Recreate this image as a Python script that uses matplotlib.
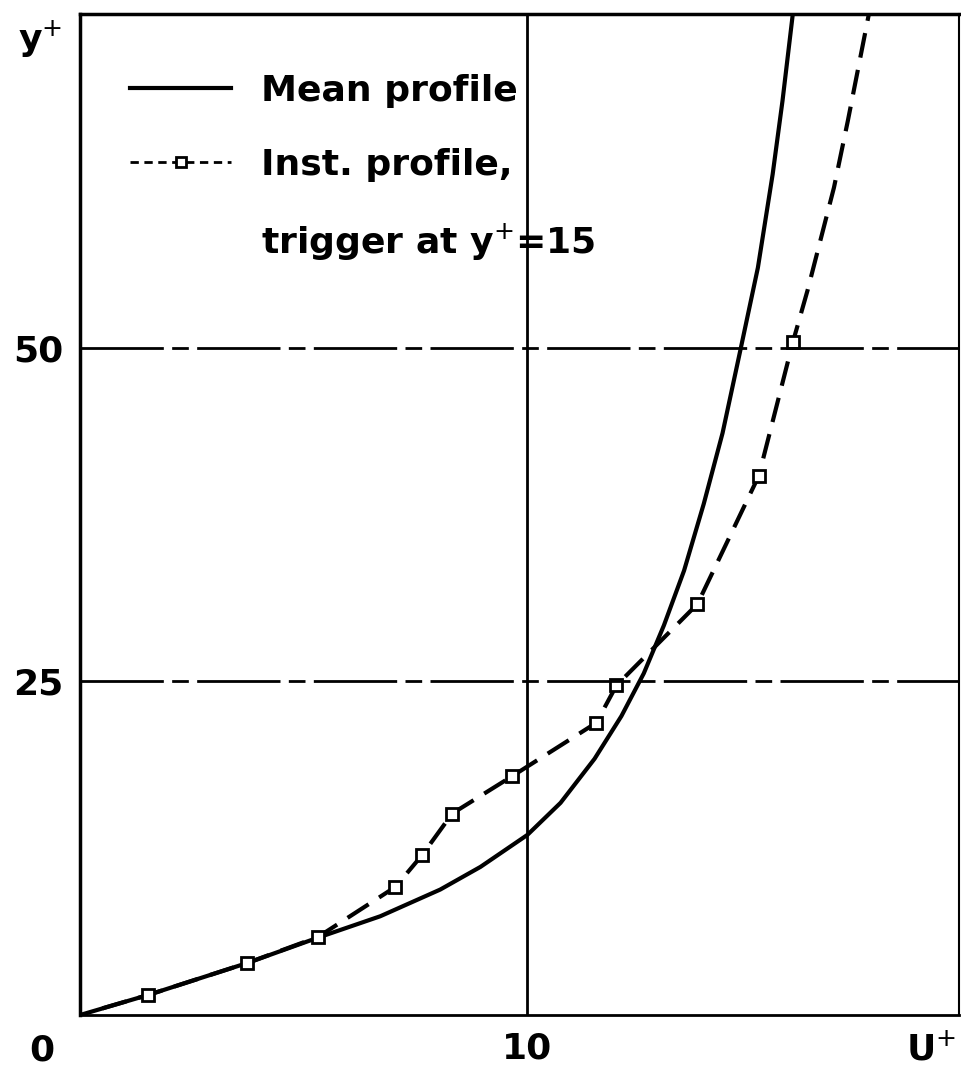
import numpy as np
import matplotlib
matplotlib.use("Agg")
import matplotlib.pyplot as plt
from matplotlib.lines import Line2D

plt.rcParams['font.family'] = ['DejaVu Sans']

# mean velocity profile (U+, y+)
mean_u = [0.0, 1.52, 3.74, 5.32, 6.71, 8.05, 8.95, 10.0, 10.74, 11.5, 12.1, 12.6,
          13.05, 13.5, 13.94, 14.36, 14.77, 15.15, 15.48, 15.7, 15.93]
mean_y = [0.0, 1.5, 3.9, 5.8, 7.4, 9.4, 11.1, 13.5, 15.9, 19.2, 22.4, 25.6,
          29.2, 33.3, 38.3, 43.6, 50.0, 56.0, 63.0, 68.5, 75.0]

# instantaneous profile, trigger at y+=15 (measured points)
inst_u = [1.52, 3.74, 5.32, 7.05, 7.65, 8.32, 9.66, 11.54, 11.99, 13.8, 15.17, 15.93]
inst_y = [1.5, 3.9, 5.85, 9.6, 12.0, 15.1, 17.9, 21.9, 24.7, 30.8, 40.4, 50.4]
# dashed curve continues beyond the last point
inst_u_ext = [0.5] + inst_u + [16.26, 16.85, 17.16, 17.63]
inst_y_ext = [0.5] + inst_y + [54.3, 62.0, 67.0, 75.0]

fig = plt.figure(figsize=(9.61, 10.78), dpi=100)
ax = fig.add_axes([0.0832, 0.0584, 0.915, 0.9286])

ax.plot(mean_u, mean_y, color='black', lw=3)
ax.plot(inst_u_ext, inst_y_ext, color='black', lw=3, dashes=(6, 3))
ax.plot(inst_u, inst_y, ls='none', marker='s', ms=9, mfc='white', mec='black', mew=2)

# grid
ax.axvline(10, color='black', lw=2)
for yv in [25, 50]:
    ax.axhline(yv, color='black', lw=2, dashes=(30, 3, 6, 3))

ax.set_xlim(0, 19.65)
ax.set_ylim(0, 75)
for s in ax.spines.values():
    s.set_linewidth(2.5)
ax.spines['right'].set_linewidth(1.5)
ax.spines['bottom'].set_linewidth(2)

ax.set_xticks([10])
ax.set_xticklabels(['10'])
ax.set_yticks([25, 50])
ax.set_yticklabels(['25', '50'])
ax.tick_params(length=0, labelsize=26, pad=12)
for lab in ax.get_xticklabels() + ax.get_yticklabels():
    lab.set_fontweight('bold')

ax.text(-0.043, -0.035, '0', transform=ax.transAxes, fontsize=26, fontweight='bold',
        ha='center', va='center')
ax.text(0.996, -0.035, 'U$^{+}$', transform=ax.transAxes, fontsize=26, fontweight='bold',
        ha='right', va='center')
ax.text(-0.045, 0.975, 'y$^{+}$', transform=ax.transAxes, fontsize=26, fontweight='bold',
        ha='center', va='center')

handles = [
    Line2D([], [], color='black', lw=3),
    Line2D([], [], color='black', lw=2, dashes=(3, 2), marker='s', ms=7,
           mfc='white', mec='black', mew=2, markevery=[0, -1]),
    Line2D([], [], color='none'),
]
labels = ['Mean profile', 'Inst. profile,', 'trigger at y$^{+}$=15']
ax.legend(handles, labels, loc='upper left', bbox_to_anchor=(0.057, 0.94),
          frameon=False, handlelength=2.8, handletextpad=0.83,
          labelspacing=1.1, borderpad=0, borderaxespad=0,
          prop={'weight': 'bold', 'size': 26})

fig.savefig('out.png', dpi=100)
